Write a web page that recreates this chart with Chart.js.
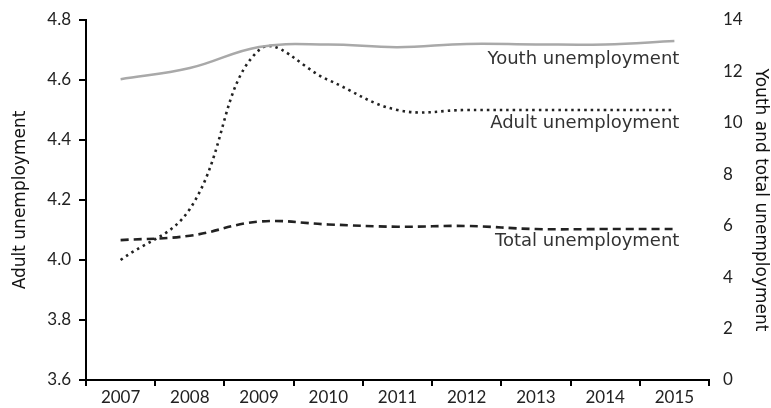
<!DOCTYPE html>
<html>
<head>
<meta charset="utf-8">
<script src="https://cdn.jsdelivr.net/npm/chart.js@4"></script>
<style>
  html, body { margin: 0; padding: 0; background: #fff; }
  #wrap { width: 771px; height: 408px; }
</style>
</head>
<body>
<div id="wrap"><canvas id="chartCanvas" width="771" height="408"></canvas></div>
<script>
// Datos
const years = ['2007', '2008', '2009', '2010', '2011', '2012', '2013', '2014', '2015'];
const adult = [4.0, 4.17, 4.70, 4.60, 4.50, 4.50, 4.50, 4.50, 4.50];
const youth = [11.7, 12.13, 12.95, 13.05, 12.94, 13.07, 13.05, 13.05, 13.18];
const total = [5.44, 5.61, 6.16, 6.05, 5.96, 5.99, 5.87, 5.87, 5.87];
const adultTicks = [3.6, 3.8, 4.0, 4.2, 4.4, 4.6, 4.8];
const rightTicks = [0, 2, 4, 6, 8, 10, 12, 14];

const FONT = 'Lato, "Open Sans", sans-serif';
const WIDE = '"DejaVu Sans", sans-serif';

// etiquetas al final de cada serie
const endLabels = {
    id: 'endLabels',
    afterDatasetsDraw(chart) {
        const c = chart.ctx;
        c.save();
        c.font = '18px ' + WIDE;
        c.fillStyle = '#333';
        c.textAlign = 'right';
        c.textBaseline = 'middle';
        chart.data.datasets.forEach((ds, i) => {
            const pts = chart.getDatasetMeta(i).data;
            const p = pts[pts.length - 1];
            c.fillText(ds.label, p.x + 5, p.y + ds.labelGap);
        });
        c.restore();
    }
};

const ctx = document.getElementById('chartCanvas').getContext('2d');
new Chart(ctx, {
    type: 'line',
    data: {
        labels: years,
        datasets: [{
            label: 'Youth unemployment',
            data: youth,
            yAxisID: 'yRight',
            borderColor: '#a9a9a9',
            borderWidth: 2.5,
            labelGap: 18
        }, {
            label: 'Adult unemployment',
            data: adult,
            yAxisID: 'yLeft',
            borderColor: '#222',
            borderWidth: 2.6,
            borderDash: [2.5, 4],
            labelGap: 13
        }, {
            label: 'Total unemployment',
            data: total,
            yAxisID: 'yRight',
            borderColor: '#222',
            borderWidth: 2.6,
            borderDash: [8, 5],
            labelGap: 12
        }]
    },
    options: {
        responsive: false,
        animation: false,
        layout: { padding: { top: 20, left: 0, right: 0, bottom: 0 } },
        elements: {
            point: { radius: 0 },
            line: { tension: 0.4, fill: false }
        },
        plugins: {
            legend: { display: false },
            tooltip: { enabled: false }
        },
        scales: {
            x: {
                offset: true,
                grid: { offset: true, drawOnChartArea: false, drawTicks: true, tickLength: 6, color: '#000', lineWidth: 2 },
                border: { display: true, color: '#000', width: 2 },
                ticks: { color: '#222', font: { family: FONT, size: 17 }, padding: 1, maxRotation: 0 },
                afterFit(s) { s.height = 28; }
            },
            yLeft: {
                position: 'left',
                min: 3.6,
                max: 4.8,
                afterBuildTicks(s) { s.ticks = adultTicks.map(v => ({ value: v })); },
                grid: { drawOnChartArea: false, drawTicks: true, tickLength: 7, color: '#000', lineWidth: 2 },
                border: { display: true, color: '#000', width: 2 },
                ticks: {
                    color: '#222', font: { family: FONT, size: 17 }, padding: 8,
                    callback: v => v.toFixed(1)
                },
                title: {
                    display: true, text: 'Adult unemployment', color: '#111',
                    font: { family: WIDE, size: 17 }, padding: { top: 10, bottom: 0 }
                },
                afterFit(s) { s.width = 86; }
            },
            yRight: {
                position: 'right',
                min: 0,
                max: 14,
                afterBuildTicks(s) { s.ticks = rightTicks.map(v => ({ value: v })); },
                grid: { display: false },
                border: { display: false },
                ticks: { color: '#222', font: { family: FONT, size: 17 }, padding: 6 },
                title: {
                    display: true, text: 'Youth and total unemployment', color: '#111',
                    font: { family: WIDE, size: 17 }, padding: { top: 0, bottom: 4 }
                },
                afterFit(s) { s.width = 62; }
            }
        }
    },
    plugins: [endLabels]
});
</script>
</body>
</html>
